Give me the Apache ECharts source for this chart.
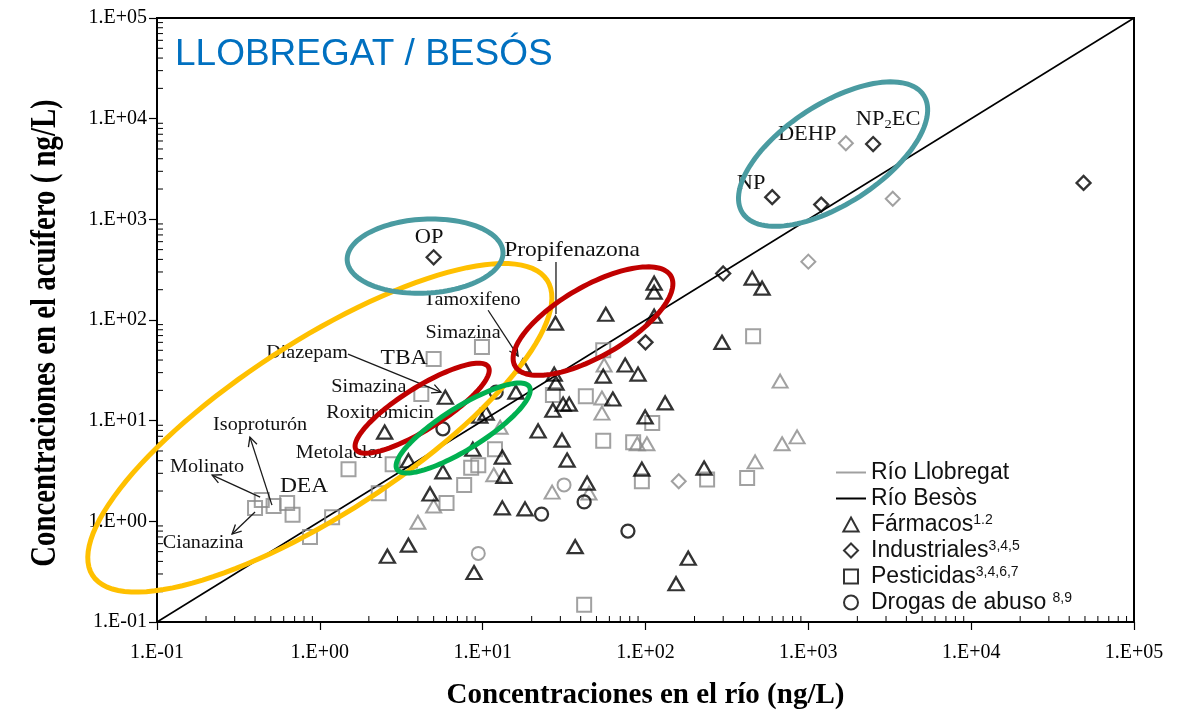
<!DOCTYPE html>
<html>
<head>
<meta charset="utf-8">
<script src="https://cdn.jsdelivr.net/npm/echarts@6/dist/echarts.min.js"></script>
<style>
  html, body { margin: 0; padding: 0; background: #fff; }
  #chart { width: 1184px; height: 715px; }
</style>
</head>
<body>
<div id="chart"></div>
<script>
// River concentration (x, ng/L) against aquifer concentration (y, ng/L)
// Black = Río Besòs, grey = Río Llobregat

const farmacosBesos = [
  [28, 93], [57, 114], [113, 232], [113, 189], [113, 109], [452, 261], [520, 207],
  [295, 60], [17.7, 35], [27.5, 29], [28.2, 23.6], [16, 19.2], [75, 35.7], [90, 29],
  [55, 27.7], [63, 16.4], [132, 15], [27, 12.7], [31.2, 14.6], [34, 14.6], [99.5, 10.9],
  [9.6, 11.1], [10.5, 11.9], [5.9, 17.1], [2.5, 7.7], [3.5, 4.0], [8.7, 5.2], [13.2, 4.35],
  [5.7, 3.1], [13.5, 2.8], [21.9, 7.9], [30.7, 6.4], [33, 4.06], [95, 3.3], [43.8, 2.4],
  [4.75, 1.87], [13.2, 1.36], [18.2, 1.33], [3.5, 0.58], [2.6, 0.45], [8.85, 0.31],
  [37, 0.56], [183, 0.43], [154, 0.24], [229, 3.38]
];
const farmacosLlobregat = [
  [55.7, 35.7], [54, 16.8], [54, 11.9], [12.8, 8.6], [11.7, 2.9], [5.0, 1.42], [4.0, 0.98],
  [26.7, 1.95], [45, 1.91], [89, 5.9], [102, 5.9], [671, 24.7], [853, 6.9], [690, 5.9], [471, 3.9]
];
const industrialesBesos = [
  [5.0, 420], [600, 1660], [2500, 5600], [1200, 1400], [49000, 2300], [300, 290], [100, 60]
];
const industrialesLlobregat = [
  [1700, 5700], [3300, 1600], [1000, 380], [160, 2.5]
];
const pesticidasBesos = [];
const pesticidasLlobregat = [
  [9.9, 54], [5.0, 41], [4.2, 18.4], [27, 18], [43, 17.5], [55, 50], [55, 6.3], [84, 6.1],
  [110, 9.5], [95, 2.5], [11.9, 5.2], [8.5, 3.4], [9.4, 3.6], [7.7, 2.3], [6.0, 1.52],
  [2.8, 3.7], [2.3, 1.9], [1.5, 3.3], [1.19, 1.10], [0.87, 0.70], [0.40, 1.36], [0.44, 1.63],
  [0.52, 1.42], [0.63, 1.52], [0.68, 1.16], [42, 0.148], [458, 69], [421, 2.7], [239, 2.6]
];
const drogasBesos = [
  [5.7, 8.3], [12.1, 19.2], [23, 1.18], [42, 1.56], [78, 0.80]
];
const drogasLlobregat = [
  [31.6, 2.3], [9.4, 0.48]
];

// 1:1 reference line
const identityLine = [[0.1, 0.1], [1e5, 1e5]];

// axis range (decades)
const axisMin = 0.1;
const axisMax = 1e5;

// compound labels and pointers, placed in data units
const notes = [
  { text: 'OP', at: [4.69, 650], size: 20 },
  { text: 'Propifenazona', at: [35.4, 494], size: 21 },
  { text: 'Tamoxifeno', at: [8.61, 158], size: 18 },
  { text: 'Simazina', at: [7.58, 74], size: 18 },
  { text: 'Diazepam', at: [0.834, 46.9], size: 18 },
  { text: 'TBA', at: [3.29, 41.9], size: 21 },
  { text: 'Simazina', at: [2.0, 21.6], size: 18 },
  { text: 'Roxitromicin', at: [2.34, 11.9], size: 18 },
  { text: 'Isoproturón', at: [0.43, 9.04], size: 18 },
  { text: 'Molinato', at: [0.203, 3.46], size: 18 },
  { text: 'Metolaclor', at: [1.33, 4.77], size: 18 },
  { text: 'DEA', at: [0.80, 2.24], size: 21 },
  { text: 'Cianazina', at: [0.192, 0.61], size: 18 },
  { text: 'NP', at: [445, 2239], size: 20 },
  { text: 'DEHP', at: [984, 6855], size: 20 },
  { text: 'NP{s|2}EC', at: [3090, 9660], size: 20 }
];
// [x1, y1, x2, y2, arrowHead]
const pointers = [
  [28.2, 376, 28.2, 115, 0],
  [10.8, 125, 16.5, 43.8, 1],
  [1.49, 45.8, 5.55, 19.2, 1],
  [0.508, 1.45, 0.372, 6.87, 1],
  [0.43, 1.74, 0.218, 2.88, 1],
  [0.40, 1.24, 0.289, 0.748, 1]
];
// highlight rings: centre in data units, radii in px, tilt in degrees
const rings = [
  { at: [1.0, 8.5], rx: 271, ry: 86, tilt: -33, color: '#ffc000' },
  { at: [4.43, 431], rx: 78, ry: 37, tilt: -3, color: '#4a9ba1' },
  { at: [1419, 4446], rx: 108, ry: 50, tilt: -33, color: '#4a9ba1' },
  { at: [4.25, 13.3], rx: 78, ry: 21, tilt: -32, color: '#c00000' },
  { at: [47.6, 97.5], rx: 90, ry: 35, tilt: -30, color: '#c00000' },
  { at: [7.59, 8.45], rx: 78, ry: 21, tilt: -32, color: '#00b050' }
];

const SERIF = '"Liberation Serif", "Times New Roman", serif';
const SANS = '"Liberation Sans", Arial, sans-serif';
const BLACK = '#000000';
const GREY = '#8a8a8a';

function sciLabel(v) {
  const e = Math.round(Math.log10(v));
  const a = Math.abs(e);
  return '1.E' + (e < 0 ? '-' : '+') + (a < 10 ? '0' : '') + a;
}

// log-spaced minor ticks (2..9 within each decade), bottom and left axes
const minorTicks = [];
for (let e = Math.round(Math.log10(axisMin)); e < Math.round(Math.log10(axisMax)); e++) {
  for (let m = 2; m <= 9; m++) {
    const v = m * Math.pow(10, e);
    minorTicks.push([v, axisMin, 0]);
    minorTicks.push([axisMin, v, 1]);
  }
}

const superscripts = {
  'Fármacos': '1.2',
  'Industriales': '3,4,5',
  'Pesticidas': '3,4,6,7',
  'Drogas de abuso': '8,9'
};

// outline legend glyphs
const ICON_TRIANGLE = 'path://M6,0L12,11L0,11Z';
const ICON_DIAMOND = 'path://M6,0L12,6L6,12L0,6Z';
const ICON_SQUARE = 'path://M0,0L11,0L11,11L0,11Z';
const ICON_CIRCLE = 'path://M5,0A5,5 0 1 1 5,10A5,5 0 1 1 5,0Z';

function scatter(name, data, symbol, size, color, width) {
  return {
    name: name,
    type: 'scatter',
    data: data,
    symbol: symbol,
    symbolSize: size,
    z: 3,
    itemStyle: { color: 'rgba(255,255,255,0)', borderColor: color, borderWidth: width },
    emphasis: { disabled: true }
  };
}

const chart = echarts.init(document.getElementById('chart'), null, { renderer: 'canvas' });

const axisCommon = {
  type: 'log',
  logBase: 10,
  min: axisMin,
  max: axisMax,
  splitNumber: 6,
  splitLine: { show: false },
  axisLine: { show: true, lineStyle: { color: BLACK, width: 2 } },
  axisTick: { show: true, inside: false, length: 8, lineStyle: { color: BLACK, width: 1.2 } },
  minorTick: { show: false },
  axisLabel: {
    formatter: sciLabel,
    fontFamily: SERIF,
    fontSize: 20,
    color: BLACK,
    showMinLabel: true,
    showMaxLabel: true,
    hideOverlap: false
  }
};

chart.setOption({
  animation: false,
  backgroundColor: '#ffffff',
  title: {
    text: 'LLOBREGAT / BESÓS',
    left: 170,
    top: 31,
    textStyle: { color: '#0070c0', fontSize: 37, fontFamily: SANS, fontWeight: 'normal' }
  },
  grid: {
    left: 157, right: 50, top: 18, bottom: 93,
    show: true, borderColor: BLACK, borderWidth: 2, backgroundColor: 'transparent'
  },
  xAxis: Object.assign({}, axisCommon, {
    axisLabel: Object.assign({}, axisCommon.axisLabel, { margin: 21 }),
    name: 'Concentraciones en el río (ng/L)',
    nameLocation: 'middle',
    nameGap: 59,
    nameTextStyle: { fontFamily: SERIF, fontSize: 29, fontWeight: 'bold', color: BLACK }
  }),
  yAxis: Object.assign({}, axisCommon, {
    axisLabel: Object.assign({}, axisCommon.axisLabel, { margin: 10 })
  }),
  graphic: [{
    type: 'text',
    x: 46,
    y: 333,
    rotation: Math.PI / 2,
    scaleX: 0.8,
    style: {
      text: 'Concentraciones en el acuífero ( ng/L)',
      fontFamily: SERIF,
      fontSize: 36,
      fontWeight: 'bold',
      fill: BLACK,
      align: 'center',
      verticalAlign: 'middle'
    }
  }],
  legend: {
    orient: 'vertical',
    left: 835,
    top: 461,
    padding: 0,
    itemWidth: 30,
    itemHeight: 14,
    itemGap: 3,
    selectedMode: false,
    symbolKeepAspect: true,
    data: [
      { name: 'Río Llobregat' },
      { name: 'Río Besòs' },
      { name: 'Fármacos', icon: ICON_TRIANGLE },
      { name: 'Industriales', icon: ICON_DIAMOND },
      { name: 'Pesticidas', icon: ICON_SQUARE },
      { name: 'Drogas de abuso', icon: ICON_CIRCLE }
    ],
    formatter: function (n) {
      if (!superscripts[n]) return n;
      return n + (n === 'Drogas de abuso' ? ' ' : '') + '{sup|' + superscripts[n] + '}';
    },
    textStyle: {
      fontFamily: SANS,
      fontSize: 23,
      color: '#111',
      rich: { sup: { fontFamily: SANS, fontSize: 14, color: '#111', verticalAlign: 'top' } }
    }
  },
  series: [
    {
      name: 'Río Llobregat', type: 'line', data: [], symbol: 'none',
      lineStyle: { color: '#a0a0a0', width: 2 },
      itemStyle: { color: 'rgba(0,0,0,0)', borderWidth: 0 }
    },
    {
      name: 'Río Besòs', type: 'line', data: [], symbol: 'none',
      lineStyle: { color: BLACK, width: 2.5 },
      itemStyle: { color: 'rgba(0,0,0,0)', borderWidth: 0 }
    },
    {
      name: '1:1', type: 'line', data: identityLine, symbol: 'none', z: 2, silent: true,
      lineStyle: { color: BLACK, width: 1.6 }
    },
    scatter('Fármacos (Llobregat)', farmacosLlobregat, 'triangle', [15, 13], GREY, 2),
    scatter('Industriales (Llobregat)', industrialesLlobregat, 'diamond', 14, GREY, 2),
    scatter('Pesticidas (Llobregat)', pesticidasLlobregat, 'rect', 14, GREY, 2),
    scatter('Drogas de abuso (Llobregat)', drogasLlobregat, 'circle', 13, GREY, 2),
    scatter('Fármacos', farmacosBesos, 'triangle', [15, 13], BLACK, 2.3),
    scatter('Industriales', industrialesBesos, 'diamond', 14, BLACK, 2.3),
    scatter('Pesticidas', pesticidasBesos, 'rect', 13, BLACK, 2.3),
    scatter('Drogas de abuso', drogasBesos, 'circle', 13, BLACK, 2.3),
    {
      // log-spaced minor ticks
      type: 'custom', silent: true, clip: false, z: 4,
      data: minorTicks, encode: { x: 0, y: 1 },
      renderItem: function (params, api) {
        const p = api.coord([api.value(0), api.value(1)]);
        const onX = api.value(2) === 0;
        return {
          type: 'line',
          shape: onX ? { x1: p[0], y1: p[1], x2: p[0], y2: p[1] - 6 }
                     : { x1: p[0], y1: p[1], x2: p[0] + 6, y2: p[1] },
          style: { stroke: BLACK, lineWidth: 1 }
        };
      }
    },
    {
      // compound labels
      type: 'custom', silent: true, clip: false, z: 4,
      data: notes.map(n => n.at), encode: { x: 0, y: 1 },
      renderItem: function (params, api) {
        const n = notes[params.dataIndex];
        const p = api.coord([api.value(0), api.value(1)]);
        return {
          type: 'text', x: p[0], y: p[1], scaleX: 1.12,
          style: {
            text: n.text, fontFamily: SERIF, fontSize: n.size, fill: '#111',
            align: 'center', verticalAlign: 'middle',
            rich: { s: { fontFamily: SERIF, fontSize: 13, fill: '#111', verticalAlign: 'bottom', padding: [8, 0, 0, 0] } }
          }
        };
      }
    },
    {
      // label pointers
      type: 'custom', silent: true, clip: false, z: 4,
      data: pointers, encode: { x: [0, 2], y: [1, 3] },
      renderItem: function (params, api) {
        const a = api.coord([api.value(0), api.value(1)]);
        const b = api.coord([api.value(2), api.value(3)]);
        const children = [{
          type: 'line', shape: { x1: a[0], y1: a[1], x2: b[0], y2: b[1] },
          style: { stroke: '#1a1a1a', lineWidth: 1.3 }
        }];
        if (api.value(4)) {
          const ang = Math.atan2(b[1] - a[1], b[0] - a[0]);
          const L = 9, W = 4.5;
          const bx = b[0] - L * Math.cos(ang), by = b[1] - L * Math.sin(ang);
          children.push({
            type: 'polyline',
            shape: { points: [
              [bx + W * Math.sin(ang), by - W * Math.cos(ang)],
              [b[0], b[1]],
              [bx - W * Math.sin(ang), by + W * Math.cos(ang)]
            ] },
            style: { stroke: '#1a1a1a', lineWidth: 1.3, fill: 'none' }
          });
        }
        return { type: 'group', children: children };
      }
    },
    {
      // highlight rings
      type: 'custom', silent: true, clip: false, z: 6,
      data: rings.map(r => r.at), encode: { x: 0, y: 1 },
      renderItem: function (params, api) {
        const r = rings[params.dataIndex];
        const c = api.coord([api.value(0), api.value(1)]);
        const phi = r.tilt * Math.PI / 180;
        const pts = [];
        for (let i = 0; i < 120; i++) {
          const t = i / 120 * 2 * Math.PI;
          const ex = r.rx * Math.cos(t), ey = r.ry * Math.sin(t);
          pts.push([c[0] + ex * Math.cos(phi) - ey * Math.sin(phi),
                    c[1] + ex * Math.sin(phi) + ey * Math.cos(phi)]);
        }
        return { type: 'polygon', shape: { points: pts }, style: { fill: 'none', stroke: r.color, lineWidth: 5 } };
      }
    }
  ]
});
</script>
</body>
</html>
